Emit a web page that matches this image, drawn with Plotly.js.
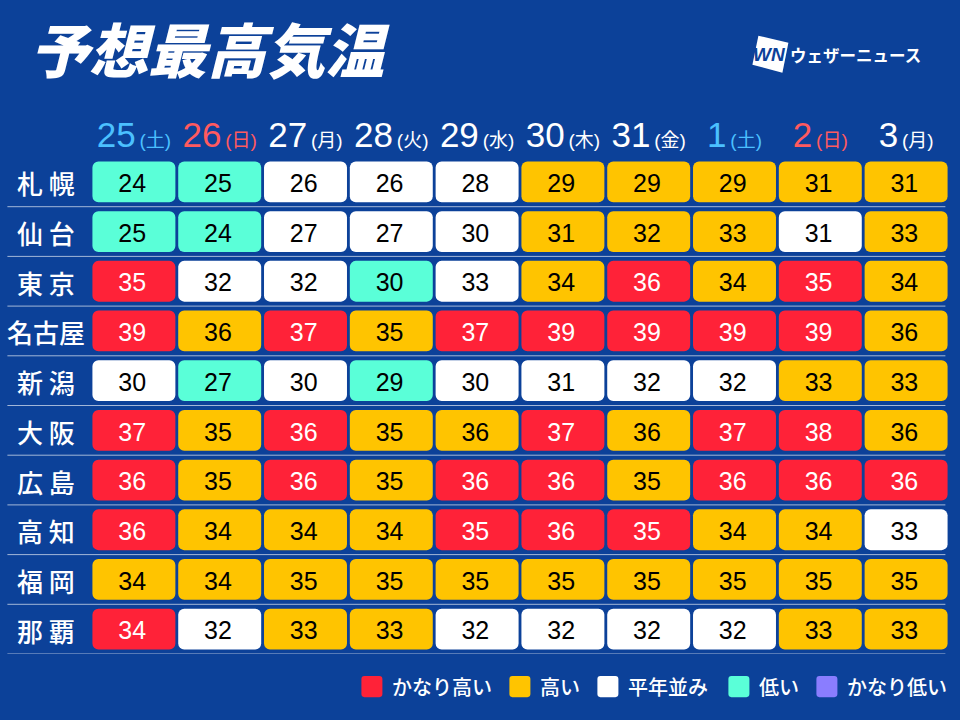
<!DOCTYPE html>
<html>
<head>
<meta charset="utf-8">
<script src="https://cdn.plot.ly/plotly-3.0.1.min.js"></script>
<style>
  html, body { margin: 0; padding: 0; background: #0c4199; }
</style>
</head>
<body>
<div id="chart" style="width:960px;height:720px"></div>
<script>
const days = ["25", "26", "27", "28", "29", "30", "31", "1", "2", "3"];
const weekdays = ["土", "日", "月", "火", "水", "木", "金", "土", "日", "月"];
const cities = ["札 幌", "仙 台", "東 京", "名古屋", "新 潟", "大 阪", "広 島", "高 知", "福 岡", "那 覇"];

const temps = [
  [24, 25, 26, 26, 28, 29, 29, 29, 31, 31],
  [25, 24, 27, 27, 30, 31, 32, 33, 31, 33],
  [35, 32, 32, 30, 33, 34, 36, 34, 35, 34],
  [39, 36, 37, 35, 37, 39, 39, 39, 39, 36],
  [30, 27, 30, 29, 30, 31, 32, 32, 33, 33],
  [37, 35, 36, 35, 36, 37, 36, 37, 38, 36],
  [36, 35, 36, 35, 36, 36, 35, 36, 36, 36],
  [36, 34, 34, 34, 35, 36, 35, 34, 34, 33],
  [34, 34, 35, 35, 35, 35, 35, 35, 35, 35],
  [34, 32, 33, 33, 32, 32, 32, 32, 33, 33],
];

// 0 かなり高い, 1 高い, 2 平年並み, 3 低い, 4 かなり低い
const levels = [
  [3, 3, 2, 2, 2, 1, 1, 1, 1, 1],
  [3, 3, 2, 2, 2, 1, 1, 1, 2, 1],
  [0, 2, 2, 3, 2, 1, 0, 1, 0, 1],
  [0, 1, 0, 1, 0, 0, 0, 0, 0, 1],
  [2, 3, 2, 3, 2, 2, 2, 2, 1, 1],
  [0, 1, 0, 1, 1, 0, 1, 0, 0, 1],
  [0, 1, 0, 1, 0, 0, 1, 0, 0, 0],
  [0, 1, 1, 1, 0, 0, 0, 1, 1, 2],
  [1, 1, 1, 1, 1, 1, 1, 1, 1, 1],
  [0, 2, 1, 1, 2, 2, 2, 2, 1, 1],
];

const levelNames = ["かなり高い", "高い", "平年並み", "低い", "かなり低い"];
const levelColors = ["#ff2238", "#ffc400", "#ffffff", "#5affd8", "#8a7dff"];

const BG = "#0c4199";
const LATIN = '"Liberation Sans", "Noto Sans CJK JP", sans-serif';
const JP = '"Noto Sans CJK JP", sans-serif';
const PLOT = { l: 90.6, t: 157.2, w: 858, h: 496.7 };

const px = (x) => (x - PLOT.l) / PLOT.w;
const py = (y) => 1 - (y - PLOT.t) / PLOT.h;

function cellsOf(level) {
  const xs = [];
  const rows = [];
  levels.forEach((row, r) => {
    row.forEach((value, c) => {
      if (value === level) {
        xs.push(c);
        rows.push(r);
      }
    });
  });
  return { xs, rows };
}

function cellTrace(level) {
  const { xs, rows } = cellsOf(level);
  return {
    type: "bar",
    x: xs,
    y: xs.map(() => 0.82),
    base: rows.map((r) => r - 0.41),
    width: 0.967,
    marker: { color: levelColors[level], cornerradius: 6, line: { width: 0 } },
    hoverinfo: "skip",
    showlegend: false,
  };
}

const numberTrace = {
  type: "scatter",
  mode: "text",
  x: temps.flatMap((row) => row.map((_, c) => c - 0.02)),
  y: temps.flatMap((row, r) => row.map(() => r + 0.08)),
  text: temps.flat().map(String),
  textposition: "middle center",
  textfont: {
    family: LATIN,
    size: 25,
    color: levels.flat().map((level) => (level === 0 ? "#ffffff" : "#000000")),
  },
  hoverinfo: "skip",
  showlegend: false,
};

function dayColor(i) {
  if (weekdays[i] === "土") return "#4bc0ff";
  if (weekdays[i] === "日") return "#ff5a5f";
  return "#ffffff";
}

const dayLabels = days.map(
  (day, i) =>
    `<span style="color:${dayColor(i)}">${day}<span style="font-size:19px">\u2009(${weekdays[i]})</span></span>`,
);

const traces = [0, 1, 2, 3, 4].map(cellTrace).concat(numberTrace);

const separators = cities.map((_, r) => ({
  type: "line",
  xref: "paper",
  yref: "y",
  x0: px(7),
  x1: px(945),
  y0: r + 0.5,
  y1: r + 0.5,
  line: { color: "rgba(255,255,255,0.62)", width: 1 },
}));

const cityLabels = cities.map((city, r) => ({
  xref: "paper",
  yref: "y",
  x: px(46),
  y: r,
  yshift: -1,
  text: city,
  showarrow: false,
  xanchor: "center",
  yanchor: "middle",
  font: { family: JP, size: 26, color: "#ffffff", weight: 500 },
}));

const legendX = [361, 509, 597, 728, 816];
function swatch(x) {
  const x0 = px(x), x1 = px(x + 21);
  const y0 = py(697), y1 = py(676);
  const rx = 3 / PLOT.w, ry = 3 / PLOT.h;
  return {
    type: "path",
    xref: "paper",
    yref: "paper",
    path: `M${x0 + rx},${y1} L${x1 - rx},${y1} Q${x1},${y1} ${x1},${y1 - ry} L${x1},${y0 + ry} Q${x1},${y0} ${x1 - rx},${y0} L${x0 + rx},${y0} Q${x0},${y0} ${x0},${y0 + ry} L${x0},${y1 - ry} Q${x0},${y1} ${x0 + rx},${y1} Z`,
    fillcolor: levelColors[legendX.indexOf(x)],
    line: { width: 0 },
  };
}
const legendShapes = legendX.map(swatch);
const legendLabels = levelNames.map((name, i) => ({
  xref: "paper",
  yref: "paper",
  x: px(legendX[i] + 30),
  y: py(686),
  text: name,
  showarrow: false,
  xanchor: "left",
  yanchor: "middle",
  xshift: -1,
  font: { family: JP, size: 20, color: "#ffffff", weight: 500 },
}));

const logoShape = {
  type: "path",
  xref: "paper",
  yref: "paper",
  path: `M${px(758)},${py(36)} L${px(788)},${py(43)} L${px(782)},${py(73)} L${px(752)},${py(65)} Z`,
  fillcolor: "#ffffff",
  line: { width: 0 },
};
const logoLabels = [
  {
    xref: "paper",
    yref: "paper",
    x: px(769),
    y: py(55),
    xanchor: "center",
    yanchor: "middle",
    text: "<b><i>WN</i></b>",
    showarrow: false,
    font: { family: LATIN, size: 19, color: BG },
  },
  {
    xref: "paper",
    yref: "paper",
    x: px(788),
    y: py(55),
    xanchor: "left",
    yanchor: "middle",
    text: "<b>ウェザーニュース</b>",
    showarrow: false,
    font: { family: JP, size: 16.5, color: "#ffffff" },
  },
];

const layout = {
  width: 960,
  height: 720,
  autosize: false,
  paper_bgcolor: BG,
  plot_bgcolor: BG,
  margin: {
    l: PLOT.l,
    t: PLOT.t,
    r: 960 - PLOT.l - PLOT.w,
    b: 720 - PLOT.t - PLOT.h,
    pad: 0,
  },
  title: {
    text: "予想最高気温",
    x: 30 / 960,
    xanchor: "left",
    y: 1 - 52 / 720,
    yanchor: "middle",
    font: { family: JP, size: 59, color: "#ffffff", weight: 900, style: "italic" },
  },
  barmode: "overlay",
  showlegend: false,
  xaxis: {
    side: "top",
    range: [-0.5, 9.5],
    tickmode: "array",
    tickvals: days.map((_, i) => i),
    ticktext: dayLabels,
    tickfont: { family: LATIN, size: 35, color: "#ffffff" },
    ticklen: 0,
    ticks: "",
    ticklabelstandoff: 2,
    showgrid: false,
    zeroline: false,
    showline: false,
    fixedrange: true,
  },
  yaxis: {
    range: [9.5, -0.5],
    showticklabels: false,
    ticks: "",
    showgrid: false,
    zeroline: false,
    showline: false,
    fixedrange: true,
  },
  shapes: separators.concat(legendShapes, logoShape),
  annotations: cityLabels.concat(legendLabels, logoLabels),
};

Plotly.newPlot("chart", traces, layout, { displayModeBar: false, staticPlot: true });
</script>
</body>
</html>
